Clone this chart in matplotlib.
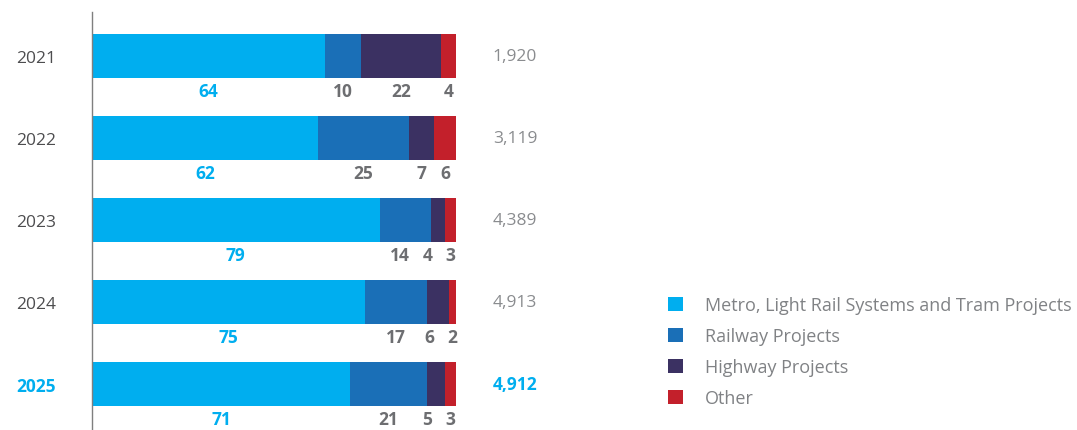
import numpy as np
import matplotlib.pyplot as plt

plt.rcParams['font.family'] = ['Open Sans', 'DejaVu Sans']

# share of project value by type, per year (%)
years = ["2021", "2022", "2023", "2024", "2025"]
metro = [64, 62, 79, 75, 71]
railway = [10, 25, 14, 17, 21]
highway = [22, 7, 4, 6, 5]
other = [4, 6, 3, 2, 3]
totals = [1920, 3119, 4389, 4913, 4912]

names = ["Metro, Light Rail Systems and Tram Projects", "Railway Projects",
         "Highway Projects", "Other"]
colors = ["#00aeef", "#1a6fb7", "#3b3162", "#c3202b"]

CYAN = "#00aeef"
GRAY = "#6d6e71"
LIGHTGRAY = "#8a8c8f"

fig = plt.figure(figsize=(10.77, 4.31), dpi=100)
ax = fig.add_axes([92/1077, 0, 364/1077, 1 - 13/431])

series = [metro, railway, highway, other]
y = np.arange(len(years))
left = np.zeros(len(years))
for vals, name, c in zip(series, names, colors):
    ax.barh(y, vals, left=left, height=0.537, color=c, label=name)
    left += np.array(vals)

ax.set_xlim(0, 100)
ax.set_ylim(4.56, -0.537)

# value labels under each bar, pushed left when they would collide
px = 364 / 100  # pixels per percent
for i in range(len(years)):
    vals = [s[i] for s in series]
    starts = np.cumsum([0] + vals[:-1])
    centers = [s + v / 2 for s, v in zip(starts, vals)]
    widths = [len(str(v)) * 10 / px for v in vals]
    xs = list(centers)
    for k in range(len(xs) - 2, 0, -1):
        gap = (widths[k] + widths[k + 1]) / 2 + 13 / px
        xs[k] = min(xs[k], xs[k + 1] - gap)
    for k, (xv, v) in enumerate(zip(xs, vals)):
        ax.text(xv, i + 0.43, str(v), ha="center", va="center", fontsize=12.5,
                fontweight="bold", color=CYAN if k == 0 else GRAY)
    last = i == len(years) - 1
    ax.text(116.2, i, f"{totals[i]:,}", ha="center", va="center", fontsize=12.5,
            color=CYAN if last else LIGHTGRAY, fontweight="bold" if last else "normal",
            clip_on=False)

ax.set_yticks(y)
ax.set_yticklabels(years, fontsize=12.5, color="#4d4d4f")
ax.tick_params(axis="y", length=0, pad=26)
ax.get_yticklabels()[-1].set_color(CYAN)
ax.get_yticklabels()[-1].set_fontweight("bold")
ax.set_xticks([])
for sp in ["top", "right", "bottom"]:
    ax.spines[sp].set_visible(False)
ax.spines["left"].set_color("#7f7f7f")
ax.spines["left"].set_linewidth(1)

fig.legend(loc="upper left", bbox_to_anchor=(668/1077, 1 - 297/431), frameon=False,
           fontsize=13, handlelength=0.85, handleheight=0.85, handletextpad=1.2,
           labelspacing=0.72, labelcolor="#808285", borderpad=0, borderaxespad=0)

fig.savefig("out.png", dpi=100)
